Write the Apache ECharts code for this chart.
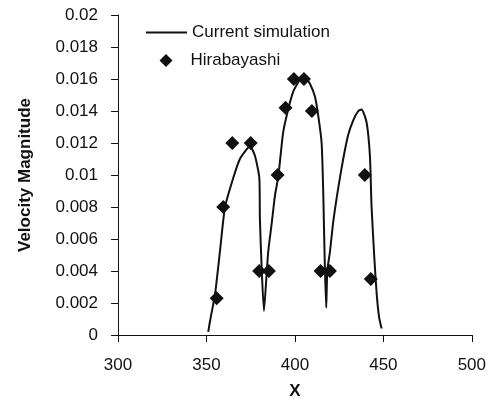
<!DOCTYPE html>
<html>
<head>
<meta charset="utf-8">
<script src="https://cdn.jsdelivr.net/npm/echarts@6/dist/echarts.min.js"></script>
<style>
  html, body { margin: 0; padding: 0; background: #fff; }
  #chart { width: 489px; height: 405px; }
</style>
</head>
<body>
<div id="chart"></div>
<script>
// Simulated velocity profile (x position, velocity magnitude)
const simX = [351, 352.4, 354.8, 357.6, 360.5, 365.1, 368.9, 372.7, 374.6, 377.4, 379.9, 380.2, 381.2, 382.5,
  384, 384.9, 386.8, 388.7, 390.6, 393.4, 396.2, 399, 401.9, 404.5, 406, 408.5, 411.3, 413.2, 415.1, 416, 416.6,
  417, 417.7, 418.3, 419.8, 421.7, 424.5, 427.3, 430.1, 432.9, 435.8, 437.7, 440.5, 442.4, 443.3, 444.8, 446.2,
  447.6, 449];
const simY = [0.0002, 0.0011, 0.0025, 0.0052, 0.0080, 0.0098, 0.0110, 0.0116, 0.0118, 0.0112, 0.0098, 0.0073,
  0.0042, 0.0015, 0.0038, 0.0052, 0.0069, 0.0087, 0.0099, 0.0127, 0.0141, 0.0152, 0.0158, 0.0162, 0.0161, 0.0157,
  0.0149, 0.0137, 0.0120, 0.0090, 0.0059, 0.0040, 0.0017, 0.0040, 0.0052, 0.0071, 0.0092, 0.0110, 0.0125, 0.0134,
  0.0140, 0.0141, 0.0133, 0.0112, 0.0081, 0.0050, 0.0026, 0.0011, 0.0004];

// Hirabayashi measurements
const expX = [355.8, 359.5, 364.6, 375, 379.8, 385.3, 390.2, 394.7, 399.4, 405.1, 409.6, 414.5, 419.8, 439.5, 442.9];
const expY = [0.0023, 0.008, 0.012, 0.012, 0.004, 0.004, 0.010, 0.0142, 0.016, 0.016, 0.014, 0.004, 0.004, 0.010, 0.0035];

// Axis ticks
const xTicks = [300, 350, 400, 450, 500];
const yTicks = [0, 0.002, 0.004, 0.006, 0.008, 0.01, 0.012, 0.014, 0.016, 0.018, 0.02];

const seriesNames = ['Current simulation', 'Hirabayashi'];

const FONT = 'Liberation Sans, Arial, sans-serif';
const INK = '#111';

const chart = echarts.init(document.getElementById('chart'), null, { renderer: 'canvas' });

const axisCommon = {
  axisLine: { show: true, onZero: false, lineStyle: { color: INK, width: 1 } },
  axisTick: { show: true, inside: false, length: 7, lineStyle: { color: INK, width: 1 } },
  splitLine: { show: false },
  nameTextStyle: { fontFamily: FONT, fontWeight: 'bold', fontSize: 17, color: INK }
};

chart.setOption({
  animation: false,
  backgroundColor: '#fff',
  grid: { left: 118, right: 17, top: 15, bottom: 67, containLabel: false },
  legend: [
    {
      data: [{ name: seriesNames[0], icon: 'rect' }],
      left: 146, top: 24, padding: 0,
      itemWidth: 41, itemHeight: 2,
      textStyle: { fontFamily: FONT, fontSize: 17, color: INK }
    },
    {
      data: [{ name: seriesNames[1], icon: 'diamond' }],
      left: 159.5, top: 52, padding: 0,
      itemWidth: 13, itemHeight: 13,
      textStyle: { fontFamily: FONT, fontSize: 17, color: INK, padding: [0, 0, 0, 13] }
    }
  ],
  xAxis: Object.assign({}, axisCommon, {
    type: 'value',
    min: xTicks[0], max: xTicks[xTicks.length - 1], interval: xTicks[1] - xTicks[0],
    name: 'X', nameLocation: 'middle', nameGap: 48,
    axisLabel: { fontFamily: FONT, fontSize: 17, color: INK, margin: 22 }
  }),
  yAxis: Object.assign({}, axisCommon, {
    type: 'value',
    min: yTicks[0], max: yTicks[yTicks.length - 1], interval: yTicks[1] - yTicks[0],
    name: 'Velocity Magnitude', nameLocation: 'middle', nameGap: 84,
    axisLabel: {
      fontFamily: FONT, fontSize: 17, color: INK, margin: 20,
      formatter: v => String(+v.toFixed(4))
    }
  }),
  series: [
    {
      name: seriesNames[0],
      type: 'line',
      data: simX.map((x, i) => [x, simY[i]]),
      symbol: 'none',
      smooth: 0.2,
      lineStyle: { color: INK, width: 2 },
      itemStyle: { color: INK },
      z: 2
    },
    {
      name: seriesNames[1],
      type: 'scatter',
      data: expX.map((x, i) => [x, expY[i]]),
      symbol: 'diamond',
      symbolSize: [14, 14],
      itemStyle: { color: INK, opacity: 1 },
      z: 3
    }
  ]
});
</script>
</body>
</html>
